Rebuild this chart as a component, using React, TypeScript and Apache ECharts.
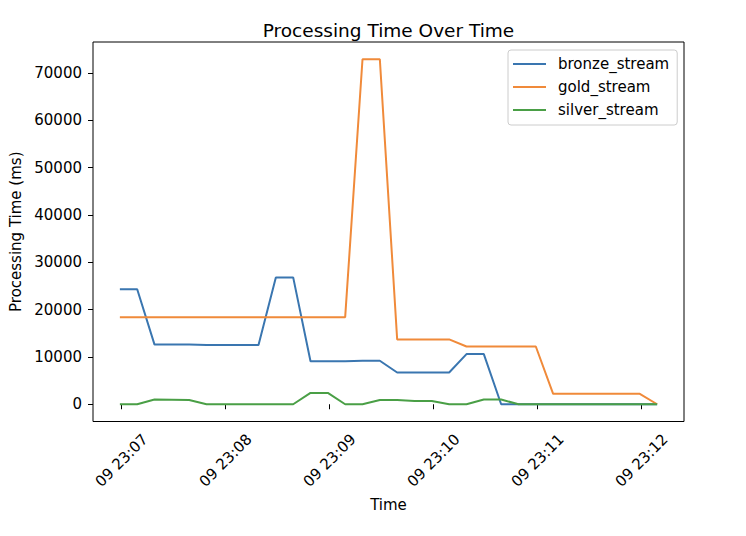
import React, { useEffect, useRef } from "react";
import * as echarts from "echarts";

const DAY = "2024-01-09";
const TIMES = [
  "23:06:59", "23:07:09", "23:07:19", "23:07:29", "23:07:39", "23:07:49", "23:07:59", "23:08:09",
  "23:08:19", "23:08:29", "23:08:39", "23:08:49", "23:08:59", "23:09:09", "23:09:19", "23:09:29",
  "23:09:39", "23:09:49", "23:09:59", "23:10:09", "23:10:19", "23:10:29", "23:10:39", "23:10:49",
  "23:10:59", "23:11:09", "23:11:19", "23:11:29", "23:11:39", "23:11:49", "23:11:59", "23:12:09",
];
const BRONZE = [
  24300, 24300, 12600, 12600, 12600, 12500, 12500, 12500,
  12500, 26800, 26800, 9100, 9100, 9100, 9200, 9200,
  6700, 6700, 6700, 6700, 10600, 10600, 0, 0,
  0, 0, 0, 0, 0, 0, 0, 0,
];
const GOLD = [
  18400, 18400, 18400, 18400, 18400, 18400, 18400, 18400,
  18400, 18400, 18400, 18400, 18400, 18400, 72900, 72900,
  13700, 13700, 13700, 13700, 12200, 12200, 12200, 12200,
  12200, 2200, 2200, 2200, 2200, 2200, 2200, 0,
];
const SILVER = [
  0, 0, 1000, 950, 900, 0, 0, 0,
  0, 0, 0, 2400, 2400, 0, 0, 900,
  900, 700, 700, 0, 0, 1000, 1000, 0,
  0, 0, 0, 0, 0, 0, 0, 0,
];
const SERIES_NAMES = ["bronze_stream", "gold_stream", "silver_stream"];
const X_TICKS = ["23:07:00", "23:08:00", "23:09:00", "23:10:00", "23:11:00", "23:12:00"];
const Y_TICKS = [0, 10000, 20000, 30000, 40000, 50000, 60000, 70000];

const COLORS = ["#3a76b0", "#f08a3a", "#4a9f46"];
const FONT = "DejaVu Sans";

const toMs = (t: string) => Date.parse(`${DAY}T${t}Z`);
const pad2 = (n: number) => (n < 10 ? "0" + n : "" + n);

export default function App() {
  const ref = useRef<HTMLDivElement>(null);

  useEffect(() => {
    if (!ref.current) return;
    const chart = echarts.init(ref.current, undefined, { renderer: "svg" });

    const xs = TIMES.map(toMs);
    const xFirst = xs[0];
    const xLast = xs[xs.length - 1];
    const xPad = (xLast - xFirst) * 0.05;
    const allY = [...BRONZE, ...GOLD, ...SILVER];
    const yMaxData = Math.max(...allY);
    const yMinData = Math.min(...allY);
    const yPad = (yMaxData - yMinData) * 0.05;
    const xTickValues = X_TICKS.map(toMs);

    const values = [BRONZE, GOLD, SILVER];

    chart.setOption({
      animation: false,
      backgroundColor: "#ffffff",
      title: {
        text: "Processing Time Over Time",
        left: 383.5,
        top: 16,
        textAlign: "center",
        textStyle: { fontFamily: FONT, fontSize: 18.5, fontWeight: "normal", color: "#000" },
      },
      legend: {
        orient: "vertical",
        left: 508,
        top: 50,
        icon: "rect",
        itemWidth: 33,
        itemHeight: 2,
        itemGap: 7,
        padding: [6, 8, 7, 5],
        borderColor: "#cccccc",
        borderWidth: 1,
        borderRadius: 3,
        backgroundColor: "rgba(255,255,255,0.8)",
        textStyle: { fontFamily: FONT, fontSize: 15, color: "#000", lineHeight: 16, padding: [0, 0, 0, 7] },
        data: SERIES_NAMES,
      },
      grid: {
        left: 93,
        right: 62,
        top: 42,
        bottom: 114.5,
        show: true,
        borderColor: "#000",
        borderWidth: 1,
        backgroundColor: "transparent",
      },
      xAxis: {
        type: "value",
        min: xFirst - xPad,
        max: xLast + xPad,
        name: "Time",
        nameLocation: "middle",
        nameGap: 83,
        nameTextStyle: { fontFamily: FONT, fontSize: 15, color: "#000", verticalAlign: "middle" },
        axisLine: { show: false },
        splitLine: { show: false },
        axisTick: { show: true, length: 5, customValues: xTickValues, lineStyle: { color: "#000", width: 1 } },
        axisLabel: {
          customValues: xTickValues,
          interval: 0,
          rotate: 45,
          align: "center",
          verticalAlign: "middle",
          margin: 39,
          fontFamily: FONT,
          fontSize: 15,
          color: "#000",
          formatter: (v: number) => {
            const d = new Date(v);
            return `${pad2(d.getUTCDate())} ${pad2(d.getUTCHours())}:${pad2(d.getUTCMinutes())}`;
          },
        },
      },
      yAxis: {
        type: "value",
        min: yMinData - yPad,
        max: yMaxData + yPad,
        name: "Processing Time (ms)",
        nameLocation: "middle",
        nameGap: 74,
        nameTextStyle: { fontFamily: FONT, fontSize: 15, color: "#000", verticalAlign: "middle", align: "center" },
        axisLine: { show: false },
        splitLine: { show: false },
        axisTick: { show: true, length: 5, customValues: Y_TICKS, lineStyle: { color: "#000", width: 1 } },
        axisLabel: {
          customValues: Y_TICKS,
          margin: 11,
          fontFamily: FONT,
          fontSize: 15,
          color: "#000",
          formatter: (v: number) => String(v),
        },
      },
      series: SERIES_NAMES.map((name, si) => ({
        name,
        type: "line",
        showSymbol: false,
        symbol: "none",
        color: COLORS[si],
        lineStyle: { color: COLORS[si], width: 2 },
        data: xs.map((x, i) => [x, values[si][i]]),
      })),
    });

    return () => chart.dispose();
  }, []);

  return (
    <div
      ref={ref}
      style={{ position: "absolute", left: 0, top: 0, width: 746, height: 536, background: "#fff" }}
    />
  );
}
